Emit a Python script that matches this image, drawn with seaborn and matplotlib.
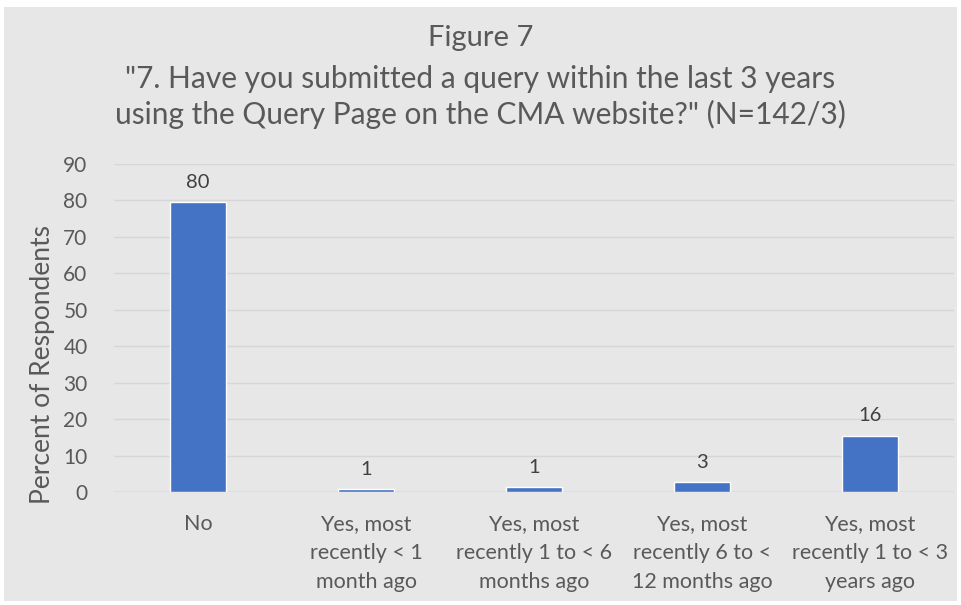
import matplotlib.pyplot as plt
import matplotlib.patches as mpatches
import seaborn as sns

BAR_COLOR = "#4472C4"
BG_COLOR = "#E7E7E7"
GRID_COLOR = "#D6D6D6"
TEXT_COLOR = "#595959"

categories = [
    "No",
    "Yes, most\nrecently < 1\nmonth ago",
    "Yes, most\nrecently 1 to < 6\nmonths ago",
    "Yes, most\nrecently 6 to <\n12 months ago",
    "Yes, most\nrecently 1 to < 3\nyears ago",
]
percent = [79.6, 0.7, 1.4, 2.8, 15.5]
value_labels = ["80", "1", "1", "3", "16"]
y_ticks = [0, 10, 20, 30, 40, 50, 60, 70, 80, 90]

sns.set_theme(style="whitegrid")
plt.rcParams["font.family"] = ["Lato", "DejaVu Sans"]

fig = plt.figure(figsize=(9.61, 6.05), dpi=100)
fig.patch.set_facecolor("white")
# grey chart area with thin white frame
fig.patches.append(mpatches.Rectangle((4 / 961, 4 / 605), 953 / 961, 594 / 605,
                                      transform=fig.transFigure, facecolor=BG_COLOR,
                                      edgecolor="none", zorder=-10))

ax = fig.add_axes([114 / 961, (605 - 492) / 605, 840 / 961, (492 - 164) / 605])
ax.set_facecolor(BG_COLOR)

sns.barplot(x=list(range(len(categories))), y=percent, color=BAR_COLOR,
            width=0.33, saturation=1, ax=ax, zorder=3)

for i, (v, lab) in enumerate(zip(percent, value_labels)):
    ax.annotate(lab, xy=(i, v), xytext=(0, 8), textcoords="offset points",
                ha="center", va="bottom", fontsize=14.5, color="#404040")

ax.set_ylim(0, 90)
ax.set_xlim(-0.5, len(categories) - 0.5)
ax.set_yticks(y_ticks)
ax.set_xticks(range(len(categories)))
ax.set_xticklabels(categories, linespacing=1.55)
ax.tick_params(axis="x", colors=TEXT_COLOR, labelsize=15.5, pad=16, length=0)
ax.tick_params(axis="y", colors=TEXT_COLOR, labelsize=15, pad=19, length=0)
ax.grid(axis="y", color=GRID_COLOR, linewidth=1)
ax.grid(axis="x", visible=False)
for s in ax.spines.values():
    s.set_visible(False)
ax.axhline(0, color="#C8C8C8", linewidth=1, zorder=2)

ax.set_ylabel("Percent of Respondents", fontsize=19, color=TEXT_COLOR)
ax.yaxis.set_label_coords(-0.07, 0.39)
ax.set_xlabel("")

fig.text(0.5, 1 - 38 / 605, "Figure 7", ha="center", va="center",
         fontsize=21, color=TEXT_COLOR)
fig.text(0.5, 1 - 97 / 605,
         "\"7. Have you submitted a query within the last 3 years\n"
         "using the Query Page on the CMA website?\" (N=142/3)",
         ha="center", va="center", fontsize=21.5, color=TEXT_COLOR, linespacing=1.3)

fig.savefig("out.png", dpi=100, facecolor=fig.get_facecolor())
plt.close(fig)
